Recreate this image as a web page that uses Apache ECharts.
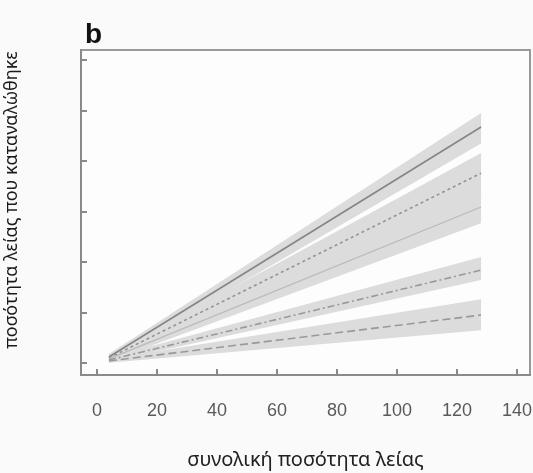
<!DOCTYPE html>
<html>
<head>
<meta charset="utf-8">
<script src="https://cdn.jsdelivr.net/npm/echarts@6/dist/echarts.min.js"></script>
<style>
  html, body { margin: 0; padding: 0; background: #fafafa; }
  #container { width: 533px; height: 473px; }
</style>
</head>
<body>
<div id="container"></div>
<script>
// data (y ticks have no labels, scale taken same as x)
var xTicks = [0, 20, 40, 60, 80, 100, 120, 140];
var yTicks = [0, 20, 40, 60, 80, 100, 120];
var preyTotal = [4, 128];

var solidMean = [2.4, 93.5], solidLow = [1.2, 87.0], solidHigh = [3.6, 99.0];
var dottedMean = [2.0, 75.2], dottedLow = [0.9, 66.0], dottedHigh = [3.2, 83.2];
var faintMean = [1.6, 61.8], faintLow = [0.6, 55.4], faintHigh = [2.6, 68.0];
var dashDotMean = [1.2, 36.8], dashDotLow = [0.4, 32.9], dashDotHigh = [2.2, 42.0];
var dashedMean = [0.8, 19.0], dashedLow = [0.1, 13.0], dashedHigh = [1.6, 25.3];

function pts(vals) {
    return preyTotal.map(function (x, i) { return [x, vals[i]]; });
}

// confidence band drawn as polygons between consecutive x values
function band(name, low, high) {
    var segs = [];
    for (var i = 0; i < preyTotal.length - 1; i++) {
        segs.push([preyTotal[i], preyTotal[i + 1], low[i], low[i + 1], high[i], high[i + 1]]);
    }
    return {
        name: name + '_band', type: 'custom', silent: true, z: 1,
        data: segs,
        encode: { x: [0, 1], y: [2, 3, 4, 5] },
        renderItem: function (params, api) {
            var p = [
                api.coord([api.value(0), api.value(2)]),
                api.coord([api.value(1), api.value(3)]),
                api.coord([api.value(1), api.value(5)]),
                api.coord([api.value(0), api.value(4)])
            ];
            return {
                type: 'polygon',
                shape: { points: p },
                style: { fill: '#dcdcdc', stroke: null }
            };
        }
    };
}

function line(name, vals, color, type, width) {
    return {
        name: name, type: 'line', data: pts(vals), symbol: 'none', z: 5,
        lineStyle: { color: color, type: type, width: width }
    };
}

var series = [
    band('solid', solidLow, solidHigh),
    band('dotted', dottedLow, dottedHigh),
    band('faint', faintLow, faintHigh),
    band('dashDot', dashDotLow, dashDotHigh),
    band('dashed', dashedLow, dashedHigh),
    line('solid', solidMean, '#858585', 'solid', 1.6),
    line('dotted', dottedMean, '#939393', [3, 3], 1.6),
    line('faint', faintMean, '#bababa', 'solid', 1.3),
    line('dashDot', dashDotMean, '#999999', [7, 3, 2, 3], 1.6),
    line('dashed', dashedMean, '#999999', [8, 4], 1.6)
];

var myChart = echarts.init(document.getElementById('container'));
var option = {
    backgroundColor: '#fafafa',
    animation: false,
    title: {
        text: 'b',
        left: 80,
        top: 16,
        textStyle: { fontSize: 28, fontWeight: 'bold', color: '#111', fontFamily: 'Liberation Sans' }
    },
    grid: {
        left: 81, top: 50, right: 3, bottom: 98,
        outerBoundsMode: 'none',
        containLabel: false,
        show: true,
        backgroundColor: '#fdfdfd',
        borderColor: '#999999',
        borderWidth: 2
    },
    xAxis: {
        type: 'value',
        min: -5.3,
        max: 144.3,
        name: 'συνολική ποσότητα λείας',
        nameLocation: 'middle',
        nameGap: 75,
        nameTextStyle: { fontSize: 20, color: '#222', fontFamily: 'Noto Sans' },
        axisLine: { show: true, onZero: false, lineStyle: { color: '#8a8a8a', width: 2 } },
        axisTick: { show: true, inside: true, length: 6, customValues: xTicks, lineStyle: { color: '#8a8a8a', width: 2 } },
        axisLabel: { customValues: xTicks, margin: 27, fontSize: 18, color: '#5a5a5a', fontFamily: 'Liberation Sans' },
        splitLine: { show: false }
    },
    yAxis: {
        type: 'value',
        min: -4.75,
        max: 124,
        axisLine: { show: true, onZero: false, lineStyle: { color: '#8a8a8a', width: 2 } },
        axisTick: { show: true, inside: true, length: 6, customValues: yTicks, lineStyle: { color: '#8a8a8a', width: 2 } },
        axisLabel: { show: false },
        splitLine: { show: false }
    },
    graphic: [{
        type: 'text',
        x: 12,
        y: 200,
        rotation: Math.PI / 2,
        style: {
            text: 'ποσότητα λείας που καταναλώθηκε',
            fontSize: 18,
            fill: '#1a1a1a',
            fontFamily: 'Noto Sans',
            align: 'center',
            verticalAlign: 'middle'
        }
    }],
    series: series
};
myChart.setOption(option);
</script>
</body>
</html>
